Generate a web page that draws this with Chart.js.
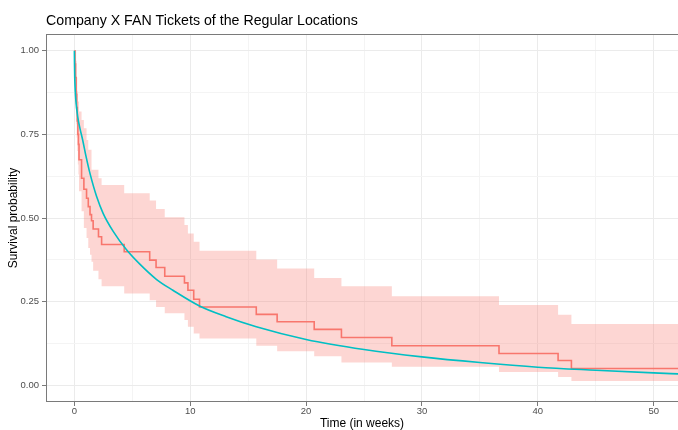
<!DOCTYPE html>
<html>
<head>
<meta charset="utf-8">
<script src="https://cdn.jsdelivr.net/npm/chart.js@4/dist/chart.umd.min.js"></script>
<style>
  html, body { margin: 0; padding: 0; background: #ffffff; }
  #wrap { width: 678px; height: 430px; }
</style>
</head>
<body>
<div id="wrap"><canvas id="c" width="678" height="430"></canvas></div>
<script>
// ---- Data ----
const chartTitle = "Company X FAN Tickets of the Regular Locations";
const xTitle = "Time (in weeks)";
const yTitle = "Survival probability";

// Kaplan-Meier step times (weeks) and values after each step
const times    = [0, 0.05, 0.1, 0.15, 0.2, 0.25, 0.3, 0.35, 0.4, 0.62, 0.82, 1.05, 1.2, 1.35, 1.48, 1.62, 2.08, 2.35, 4.3, 6.5, 7.05, 7.8, 9.5, 9.8, 10.3, 10.8, 15.7, 17.5, 20.7, 23.05, 27.4, 36.65, 41.75, 42.9, 52.2];
const survival = [1.0, 0.96, 0.92, 0.87, 0.83, 0.79, 0.75, 0.72, 0.674, 0.619, 0.586, 0.559, 0.534, 0.51, 0.492, 0.467, 0.444, 0.421, 0.399, 0.374, 0.352, 0.326, 0.306, 0.284, 0.257, 0.234, 0.212, 0.190, 0.167, 0.143, 0.118, 0.095, 0.074, 0.050, 0.050];
const upperCI  = [1.0, 1.0, 1.0, 0.97, 0.92, 0.88, 0.848, 0.848, 0.818, 0.793, 0.768, 0.733, 0.704, 0.704, 0.644, 0.644, 0.619, 0.599, 0.574, 0.552, 0.527, 0.502, 0.479, 0.454, 0.429, 0.402, 0.376, 0.349, 0.321, 0.296, 0.266, 0.240, 0.211, 0.183, 0.183];
const lowerCI  = [1.0, 0.90, 0.84, 0.78, 0.74, 0.70, 0.66, 0.63, 0.58, 0.52, 0.47, 0.44, 0.41, 0.39, 0.369, 0.342, 0.317, 0.296, 0.274, 0.254, 0.234, 0.215, 0.195, 0.175, 0.155, 0.140, 0.118, 0.102, 0.087, 0.068, 0.055, 0.040, 0.025, 0.013, 0.013];

// Fitted (parametric) survival curve, read point by point
const fitTimes    = [0, 0.01, 0.03, 0.06, 0.13, 0.3, 0.5, 0.71, 1.0, 1.34, 1.92, 2.48, 3.35, 4.5, 5.65, 7.1, 8.5, 10.8, 13.1, 15.7, 20, 25, 30, 35, 40, 45, 50, 52.2];
const fitSurvival = [1.0, 0.96, 0.92, 0.89, 0.85, 0.80, 0.765, 0.734, 0.685, 0.634, 0.564, 0.514, 0.46, 0.405, 0.362, 0.316, 0.284, 0.237, 0.205, 0.175, 0.137, 0.107, 0.085, 0.068, 0.054, 0.045, 0.037, 0.034];

const xTickLabels = [0, 10, 20, 30, 40, 50];
const yTickLabels = [0, 0.25, 0.5, 0.75, 1.0];

// ---- Build chart ----
const pairs = (xs, ys) => xs.map((x, i) => ({ x: x, y: ys[i] }));
const FONT = '"Liberation Sans", Arial, sans-serif';
const isMajorX = v => xTickLabels.some(t => Math.abs(t - v) < 1e-6);
const isMajorY = v => yTickLabels.some(t => Math.abs(t - v) < 1e-6);

const panelPlugin = {
  id: 'panel',
  afterDraw(chart) {
    const { ctx, chartArea: a } = chart;
    ctx.save();
    ctx.strokeStyle = '#7a7a7a';
    ctx.lineWidth = 1;
    ctx.strokeRect(a.left + 0.5, a.top + 0.5, a.right - a.left - 1 + 2, a.bottom - a.top - 1);
    ctx.fillStyle = '#000000';
    ctx.font = '14.2px ' + FONT;
    ctx.textBaseline = 'alphabetic';
    ctx.textAlign = 'left';
    ctx.fillText(chartTitle, a.left, 25);
    ctx.restore();
  }
};

new Chart(document.getElementById('c'), {
  type: 'line',
  data: {
    datasets: [
      {
        label: 'fit',
        data: pairs(fitTimes, fitSurvival),
        borderColor: '#00BFC4',
        borderWidth: 1.6,
        pointRadius: 0,
        cubicInterpolationMode: 'monotone',
        fill: false
      },
      {
        label: 'KM',
        data: pairs(times, survival),
        borderColor: '#F8766D',
        borderWidth: 1.6,
        pointRadius: 0,
        stepped: 'before',
        fill: false
      },
      {
        label: 'upper',
        data: pairs(times, upperCI),
        borderWidth: 0,
        borderColor: 'rgba(0,0,0,0)',
        pointRadius: 0,
        stepped: 'before',
        backgroundColor: 'rgba(248,118,109,0.3)',
        fill: '+1'
      },
      {
        label: 'lower',
        data: pairs(times, lowerCI),
        borderWidth: 0,
        borderColor: 'rgba(0,0,0,0)',
        pointRadius: 0,
        stepped: 'before',
        fill: false
      }
    ]
  },
  options: {
    responsive: false,
    animation: false,
    devicePixelRatio: 1,
    layout: { padding: { top: 34, right: 0, left: 0, bottom: 0 } },
    plugins: {
      legend: { display: false },
      tooltip: { enabled: false },
      title: { display: false }
    },
    scales: {
      x: {
        type: 'linear',
        min: -2.45,
        max: 52.1,
        afterFit(s) { s.height = 28; },
        border: { display: false },
        grid: {
          color: c => (c.tick && isMajorX(c.tick.value)) ? '#EBEBEB' : '#F4F4F4',
          lineWidth: 1,
          drawTicks: true,
          tickLength: 4,
          tickColor: c => (c.tick && isMajorX(c.tick.value)) ? '#7a7a7a' : 'rgba(0,0,0,0)'
        },
        ticks: {
          stepSize: 5,
          includeBounds: false,
          autoSkip: false,
          maxRotation: 0,
          padding: 0,
          color: '#4D4D4D',
          font: { family: FONT, size: 9.5 },
          callback: v => isMajorX(v) ? String(v) : ''
        },
        title: {
          display: true,
          text: xTitle,
          color: '#000000',
          font: { family: FONT, size: 12, lineHeight: 1 },
          padding: { top: 0, bottom: 0 }
        }
      },
      y: {
        type: 'linear',
        min: -0.05,
        max: 1.05,
        afterFit(s) { s.width = 46; },
        border: { display: false },
        grid: {
          color: c => (c.tick && isMajorY(c.tick.value)) ? '#EBEBEB' : '#F4F4F4',
          lineWidth: 1,
          drawTicks: true,
          tickLength: 4,
          tickColor: c => (c.tick && isMajorY(c.tick.value)) ? '#7a7a7a' : 'rgba(0,0,0,0)'
        },
        ticks: {
          stepSize: 0.125,
          includeBounds: false,
          autoSkip: false,
          padding: 3,
          color: '#4D4D4D',
          font: { family: FONT, size: 9.5 },
          callback: v => isMajorY(v) ? Number(v).toFixed(2) : ''
        },
        title: {
          display: true,
          text: yTitle,
          color: '#000000',
          font: { family: FONT, size: 12, lineHeight: 1.2 },
          padding: { top: 6, bottom: 0 }
        }
      }
    }
  },
  plugins: [panelPlugin]
});
</script>
</body>
</html>
